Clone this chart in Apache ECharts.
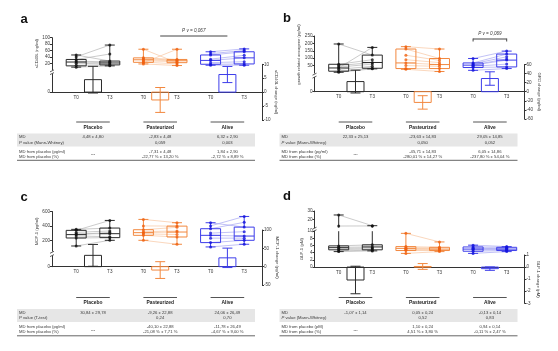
<!DOCTYPE html>
<html>
<head>
<meta charset="utf-8">
<script src="https://cdn.jsdelivr.net/npm/echarts@6/dist/echarts.min.js"></script>
<style>
  html, body { margin: 0; padding: 0; background: #fff; }
  #chart { width: 558px; height: 351px; }
</style>
</head>
<body>
<div id="chart"></div>
<script>
// categories
const groups = ['Placebo', 'Pasteurized', 'Alive'];
const timeLabels = ['T0', 'T3'];

// box stats [min, Q1, median, Q3, max] : placebo T0, placebo T3, past T0, past T3, alive T0, alive T3
const aBox = [[8, 12, 24, 32, 46], [12, 15, 21, 27, 77], [18, 23, 31, 37, 64], [13, 22, 28, 32, 64], [14, 17, 29, 46, 56], [14, 18, 37, 56, 65]];
const bBox = [[5, 12, 34, 59, 196], [28, 32, 71, 121, 173], [25, 30, 68, 162, 178], [10, 30, 57, 98, 162], [18, 37, 53, 68, 98], [30, 41, 87, 128, 148]];
const cBox = [[121, 232, 279, 338, 352], [200, 237, 292, 370, 476], [200, 269, 306, 347, 490], [145, 246, 315, 397, 444], [108, 168, 269, 361, 444], [145, 200, 259, 383, 531]];
const dBox = [[4.3, 4.8, 5.4, 5.9, 25.2], [4.5, 4.8, 5.6, 6.2, 12.3], [3.8, 4.6, 5.2, 5.7, 9.4], [4.3, 4.6, 5.0, 5.5, 7.0], [3.8, 4.4, 5.0, 5.6, 6.1], [4.3, 4.6, 5.0, 5.5, 5.7]];

// individual subjects (same order at T0 and T3), per group
const aT0 = [[40, 32, 46, 27, 24, 20, 14, 8], [64, 22, 37, 34, 31, 28, 24, 18], [56, 50, 46, 33, 29, 22, 17, 14]];
const aT3 = [[77, 49, 27, 24, 22, 18, 15, 12], [22, 64, 32, 30, 28, 25, 18, 13], [65, 60, 56, 45, 37, 25, 18, 14]];
const bT0 = [[196, 34, 59, 50, 40, 25, 12, 5], [178, 162, 120, 90, 68, 50, 30, 25], [98, 68, 62, 55, 53, 45, 37, 18]];
const bT3 = [[121, 173, 90, 71, 60, 45, 32, 28], [162, 98, 85, 70, 57, 45, 30, 10], [148, 128, 110, 95, 87, 60, 41, 30]];
const cT0 = [[352, 338, 310, 290, 279, 260, 232, 121], [490, 400, 347, 320, 306, 290, 269, 200], [444, 400, 361, 300, 269, 230, 168, 108]];
const cT3 = [[370, 476, 330, 292, 310, 250, 237, 200], [444, 397, 380, 330, 315, 280, 246, 145], [383, 531, 450, 320, 259, 230, 200, 145]];
const dT0 = [[25.2, 11.9, 5.9, 5.5, 5.2, 4.9, 4.5, 4.3], [9.4, 5.7, 5.4, 5.2, 5.0, 4.8, 4.6, 3.8], [6.1, 5.6, 5.3, 5.1, 5.0, 4.8, 4.4, 3.8]];
const dT3 = [[12.3, 12.0, 6.2, 5.6, 5.3, 5.0, 4.7, 4.5], [7.0, 5.5, 5.3, 5.1, 5.0, 4.8, 4.6, 4.3], [5.7, 5.5, 5.2, 5.1, 5.0, 4.8, 4.6, 4.3]];

// mean change ± sd (bars)
const aMean = [4.48, -2.83, 6.32], aSd = [4.80, 4.48, 2.90];
const bMean = [22.33, -23.63, 29.05], bSd = [25.13, 14.83, 14.85];
const cMean = [30.84, -9.26, 24.06], cSd = [29.78, 22.88, 26.49];
const dMean = [-1.07, 0.05, -0.13], dSd = [1.14, 0.24, 0.14];

// tables
const aRows = ['MD', '{it|P} value (Mann-Whitney)', 'MD from placebo (pg/ml)', 'MD from placebo (%)'];
const aPlacebo = ['4,48 ± 4,80', '', '---', ''];
const aPasteurized = ['-2,83 ± 4,48', '0,059', '-7,31 ± 4,48', '-22,77 % ± 13,20 %'];
const aAlive = ['6,32 ± 2,90', '0,003', '1,84 ± 2,90', '-2,72 % ± 8,89 %'];
const bRows = ['MD', '{it|P} value (Mann-Whitney)', 'MD from placebo (pg/ml)', 'MD from placebo (%)'];
const bPlacebo = ['22,33 ± 25,13', '', '---', ''];
const bPasteurized = ['-23,63 ± 14,83', '0,050', '-45,71 ± 14,83', '-280,01 % ± 14,27 %'];
const bAlive = ['29,05 ± 14,85', '0,052', '6,05 ± 14,86', '-237,80 % ± 54,04 %'];
const cRows = ['MD', '{it|P} value (T-test)', 'MD from placebo (pg/ml)', 'MD from placebo (%)'];
const cPlacebo = ['30,84 ± 29,78', '', '---', ''];
const cPasteurized = ['-9,26 ± 22,88', '0,24', '-40,10 ± 22,88', '-21,08 % ± 7,71 %'];
const cAlive = ['24,06 ± 26,49', '0,70', '-11,78 ± 26,49', '-4,67 % ± 9,00 %'];
const dRows = ['MD', '{it|P} value (Mann-Whitney)', 'MD from placebo (pM)', 'MD from placebo (%)'];
const dPlacebo = ['-1,07 ± 1,14', '', '---', ''];
const dPasteurized = ['0,05 ± 0,24', '0,52', '1,10 ± 0,24', '4,51 % ± 3,80 %'];
const dAlive = ['-0,13 ± 0,14', '0,83', '0,94 ± 0,14', '-0,11 % ± 2,47 %'];

const FONT = 'Liberation Sans';
const W = 210, X_MIN = -0.72, X_MAX = 5.53;
const PX = W / (X_MAX - X_MIN);
const BOX_W = 20, CAP_W = 10, BAR_W = 17;
const boxColors = ['#2b2b2b', '#f2883f', '#3d3dea'];
const pointColors = ['#111111', '#f0600f', '#1414dc'];
const linkColors = ['#b4b4b4', '#f8c5a0', '#a6a6f2'];
const AXIS = '#333';
const TEXT = '#3a3a3a';

const panels = [
  {
    letter: 'a', lx: 24, ly: 19, left: 52, tdx: 0, tdy: 0,
    boxAxes: [{ top: 37.7, height: 32, min: 0, max: 100, ticks: [20, 40, 60, 80, 100], named: true }],
    stub: { top: 74, height: 18.1 },
    bar: { top: 64.3, height: 55.6, min: -10, max: 10, interval: 5 },
    leftName: 'sCD40L (ng/ml)', rightName: 'sCD40L change (ng/ml)',
    box: aBox, t0: aT0, t3: aT3, mean: aMean, sd: aSd,
    table: [aRows, aPlacebo, aPasteurized, aAlive]
  },
  {
    letter: 'b', lx: 287, ly: 18, left: 314.5, tdx: 262.5, tdy: 0,
    boxAxes: [{ top: 36, height: 37, min: 0, max: 250, ticks: [50, 100, 150, 200, 250], named: true }],
    stub: { top: 77.5, height: 14.2 },
    bar: { top: 64.5, height: 54.4, min: -60, max: 60, interval: 20 },
    leftName: 'growth related oncogene (pg/ml)', rightName: 'GRO change (pg/ml)',
    box: bBox, t0: bT0, t3: bT3, mean: bMean, sd: bSd,
    table: [bRows, bPlacebo, bPasteurized, bAlive]
  },
  {
    letter: 'c', lx: 24, ly: 197.5, left: 52, tdx: 0, tdy: 175.5,
    boxAxes: [{ top: 211.5, height: 39.6, min: 50, max: 600, ticks: [200, 400, 600], named: true }],
    stub: { top: 256, height: 10.7 },
    bar: { top: 230, height: 55, min: -50, max: 100, interval: 50 },
    leftName: 'MCP-1 (pg/ml)', rightName: 'MCP-1 change (pg/ml)',
    box: cBox, t0: cT0, t3: cT3, mean: cMean, sd: cSd,
    table: [cRows, cPlacebo, cPasteurized, cAlive]
  },
  {
    letter: 'd', lx: 287, ly: 196, left: 314.5, tdx: 262.5, tdy: 175.5,
    boxAxes: [
      { top: 211, height: 16.6, min: 10, max: 30, ticks: [20, 30], named: false },
      { top: 231.2, height: 35.8, min: 0, max: 10, ticks: [0, 2, 4, 6, 8, 10], named: true }
    ],
    stub: null,
    bar: { top: 255, height: 48.3, min: -3, max: 1, interval: 1 },
    leftName: 'GLP-1 (pM)', rightName: 'GLP-1 change (pM)',
    box: dBox, t0: dT0, t3: dT3, mean: dMean, sd: dSd,
    table: [dRows, dPlacebo, dPasteurized, dAlive]
  }
];

function seg(x1, y1, x2, y2, stroke, w) {
  return { type: 'line', shape: { x1, y1, x2, y2 }, style: { stroke, lineWidth: w || 1 }, silent: true };
}
function txt(x, y, text, opts) {
  return {
    type: 'text', x, y, silent: true,
    style: Object.assign({
      text, fill: TEXT, fontSize: 4.2, fontFamily: FONT, align: 'left', verticalAlign: 'middle',
      rich: { it: { fontStyle: 'italic', fontSize: 4.2, fontFamily: FONT, fill: TEXT } }
    }, opts || {})
  };
}

function renderLink(params, api) {
  const p = api.coord([api.value(0), api.value(1)]);
  const q = api.coord([api.value(2), api.value(3)]);
  return seg(p[0], p[1], q[0], q[1], linkColors[api.value(4)], 0.7);
}

function renderBox(lo, hi) {
  return function (params, api) {
    const x = api.value(0);
    const [mn, q1, md, q3, mx] = [1, 2, 3, 4, 5].map(d => api.value(d));
    const ch = [];
    if (mx < lo || mn > hi) return { type: 'group', children: ch };
    const cl = v => Math.min(Math.max(v, lo), hi);
    const yOf = v => api.coord([x, cl(v)])[1];
    const cx = api.coord([x, lo])[0];
    const c = boxColors[Math.floor(x / 2)];
    const yQ1 = yOf(q1), yQ3 = yOf(q3), yMax = yOf(mx), yMin = yOf(mn);
    if (yQ1 - yQ3 > 0.1) {
      ch.push({ type: 'rect', shape: { x: cx - BOX_W / 2, y: yQ3, width: BOX_W, height: yQ1 - yQ3 }, style: { fill: 'none', stroke: c, lineWidth: 1 } });
    }
    if (md >= lo && md <= hi) ch.push(seg(cx - BOX_W / 2, yOf(md), cx + BOX_W / 2, yOf(md), c));
    if (yQ3 - yMax > 0.1) ch.push(seg(cx, yQ3, cx, yMax, c));
    if (mx <= hi) ch.push(seg(cx - CAP_W / 2, yMax, cx + CAP_W / 2, yMax, c));
    if (yMin - yQ1 > 0.1) ch.push(seg(cx, yQ1, cx, yMin, c));
    if (mn >= lo) ch.push(seg(cx - CAP_W / 2, yMin, cx + CAP_W / 2, yMin, c));
    return { type: 'group', children: ch };
  };
}

function renderBar(params, api) {
  const x = api.value(0), m = api.value(1), s = api.value(2);
  const c = boxColors[Math.floor(x / 2)];
  const base = api.coord([x, 0]), top = api.coord([x, m]);
  const hi = api.coord([x, m + s]), lo = api.coord([x, m - s]);
  const cx = base[0];
  return {
    type: 'group', children: [
      { type: 'rect', shape: { x: cx - BAR_W / 2, y: Math.min(base[1], top[1]), width: BAR_W, height: Math.abs(top[1] - base[1]) }, style: { fill: 'none', stroke: c, lineWidth: 1 } },
      seg(cx, hi[1], cx, lo[1], c),
      seg(cx - CAP_W / 2, hi[1], cx + CAP_W / 2, hi[1], c),
      seg(cx - CAP_W / 2, lo[1], cx + CAP_W / 2, lo[1], c)
    ]
  };
}

const option = {
  animation: false,
  textStyle: { fontFamily: FONT },
  grid: [], xAxis: [], yAxis: [], series: [], graphic: []
};

const labelStyle = { fontSize: 4.6, color: TEXT, fontFamily: FONT, margin: 2 };
const nameStyle = { fontSize: 4.2, color: TEXT, fontFamily: FONT };

function addGrid(left, top, height) {
  option.grid.push({ left, top, width: W, height, outerBoundsMode: 'none' });
  return option.grid.length - 1;
}

panels.forEach(p => {
  const posX = pos => p.left + (pos - X_MIN) * PX;

  // box plot area(s)
  p.boxAxes.forEach(ax => {
    const gi = addGrid(p.left, ax.top, ax.height);
    option.xAxis.push({ gridIndex: gi, type: 'value', min: X_MIN, max: X_MAX, show: false });
    option.yAxis.push({
      gridIndex: gi, type: 'value', min: ax.min, max: ax.max, position: 'left',
      axisLine: { show: true, onZero: false, lineStyle: { color: AXIS, width: 1 } },
      axisTick: { show: true, length: 2, customValues: ax.ticks, lineStyle: { color: AXIS } },
      axisLabel: Object.assign({ customValues: ax.ticks }, labelStyle),
      splitLine: { show: false },
      name: ax.named ? p.leftName : '', nameLocation: 'middle', nameGap: 11, nameTextStyle: nameStyle
    });
    const xi = option.xAxis.length - 1, yi = option.yAxis.length - 1;
    const inR = v => v >= ax.min && v <= ax.max;

    const links = [];
    const pts = [];
    p.t0.forEach((arr, g) => arr.forEach((v0, s) => {
      const v1 = p.t3[g][s];
      if (inR(v0) && inR(v1)) links.push([2 * g, v0, 2 * g + 1, v1, g]);
      if (inR(v0)) pts.push({ value: [2 * g, v0], itemStyle: { color: pointColors[g] } });
      if (inR(v1)) pts.push({ value: [2 * g + 1, v1], itemStyle: { color: pointColors[g] } });
    }));
    option.series.push({ type: 'custom', xAxisIndex: xi, yAxisIndex: yi, data: links, renderItem: renderLink, z: 1, silent: true });
    option.series.push({ type: 'custom', xAxisIndex: xi, yAxisIndex: yi, data: p.box.map((b, i) => [i].concat(b)), renderItem: renderBox(ax.min, ax.max), z: 2, silent: true });
    option.series.push({ type: 'scatter', xAxisIndex: xi, yAxisIndex: yi, data: pts, symbol: 'circle', symbolSize: 3, z: 3, silent: true });
  });

  // left axis stub down to 0
  if (p.stub) {
    const gi = addGrid(p.left, p.stub.top, p.stub.height);
    option.xAxis.push({ gridIndex: gi, type: 'value', min: X_MIN, max: X_MAX, show: false });
    option.yAxis.push({
      gridIndex: gi, type: 'value', min: 0, max: 1, position: 'left',
      axisLine: { show: true, onZero: false, lineStyle: { color: AXIS, width: 1 } },
      axisTick: { show: true, length: 2, customValues: [0], lineStyle: { color: AXIS } },
      axisLabel: Object.assign({ customValues: [0] }, labelStyle),
      splitLine: { show: false }
    });
    const yb = p.boxAxes[0].top + p.boxAxes[0].height;
    option.graphic.push(seg(p.left - 2, yb + 2.2, p.left + 2, yb + 0.2, AXIS, 0.8));
    option.graphic.push(seg(p.left - 2, p.stub.top + 0.6, p.left + 2, p.stub.top - 1.4, AXIS, 0.8));
  } else {
    const yb = p.boxAxes[0].top + p.boxAxes[0].height;
    const yt = p.boxAxes[1].top;
    option.graphic.push(seg(p.left - 2, yb + 1.6, p.left + 2, yb - 0.4, AXIS, 0.8));
    option.graphic.push(seg(p.left - 2, yt + 0.6, p.left + 2, yt - 1.4, AXIS, 0.8));
  }

  // change bars; the T0/T3 axis sits on the zero line of the change axis
  const gb = addGrid(p.left, p.bar.top, p.bar.height);
  const zeroLift = p.bar.height * (0 - p.bar.min) / (p.bar.max - p.bar.min);
  option.xAxis.push({
    gridIndex: gb, type: 'value', min: X_MIN, max: X_MAX, position: 'bottom', offset: -zeroLift,
    axisLine: { show: true, onZero: false, lineStyle: { color: AXIS, width: 1 } },
    axisTick: { show: false },
    axisLabel: Object.assign({}, labelStyle, { customValues: [0, 1, 2, 3, 4, 5], formatter: v => timeLabels[Math.round(v) % 2], margin: 3 }),
    splitLine: { show: false }
  });
  option.yAxis.push({
    gridIndex: gb, type: 'value', position: 'right', min: p.bar.min, max: p.bar.max, interval: p.bar.interval,
    axisLine: { show: true, onZero: false, lineStyle: { color: AXIS, width: 1 } },
    axisTick: { show: true, length: 2, lineStyle: { color: AXIS } },
    axisLabel: labelStyle,
    splitLine: { show: false },
    name: p.rightName, nameLocation: 'middle', nameRotate: -90, nameGap: 12, nameTextStyle: nameStyle
  });
  option.series.push({
    type: 'custom', xAxisIndex: option.xAxis.length - 1, yAxisIndex: option.yAxis.length - 1,
    data: p.mean.map((m, g) => [2 * g + 0.5, m, p.sd[g]]), renderItem: renderBar, z: 2, silent: true
  });

  // panel letter
  option.graphic.push(txt(p.lx, p.ly, p.letter, { fontSize: 13, fontWeight: 'bold', align: 'center', fill: '#111' }));

  // table under the chart
  const dx = p.tdx, dy = p.tdy;
  groups.forEach((name, g) => {
    option.graphic.push(seg(posX(2 * g), 122 + dy, posX(2 * g + 1), 122 + dy, '#555', 1));
    option.graphic.push(txt(posX(2 * g + 0.5), 127.5 + dy, name, { fontSize: 4.9, fontWeight: 'bold', align: 'center', fill: '#222' }));
  });
  option.graphic.push({ type: 'rect', shape: { x: 17 + dx, y: 133.5 + dy, width: 238, height: 13 }, style: { fill: '#e6e6e6' }, silent: true, z: -1 });
  option.graphic.push(seg(17 + dx, 160.3 + dy, 255 + dx, 160.3 + dy, '#666', 1));
  const rowY = [137.3, 142.6, 151.5, 156.4];
  const [rows, ...cols] = p.table;
  rows.forEach((r, i) => option.graphic.push(txt(19 + dx, rowY[i] + dy, r)));
  cols.forEach((col, g) => col.forEach((v, i) => {
    if (!v) return;
    const y = (g === 0 && i === 2) ? 154 : rowY[i];
    option.graphic.push(txt(posX(2 * g + 0.5), y + dy, v, { align: 'center' }));
  }));
});

// significance annotations
const pRich = { it: { fontStyle: 'italic', fontSize: 4.6, fontFamily: FONT, fill: TEXT } };
option.graphic.push(seg(52 + (2.5 - X_MIN) * PX, 36, 52 + (4.5 - X_MIN) * PX, 36, '#444', 1));
option.graphic.push(txt(52 + (3.5 - X_MIN) * PX, 30.8, '{it|P v = 0,067}', { align: 'center', rich: pRich }));
const bx1 = 314.5 + (4 - X_MIN) * PX, bx2 = 314.5 + (5 - X_MIN) * PX;
option.graphic.push(seg(bx1, 39, bx2, 39, '#444', 1));
option.graphic.push(seg(bx1, 38.5, bx1, 41.5, '#444', 1));
option.graphic.push(seg(bx2, 38.5, bx2, 41.5, '#444', 1));
option.graphic.push(txt((bx1 + bx2) / 2, 34, '{it|P v = 0,069}', { align: 'center', rich: pRich }));

const myChart = echarts.init(document.getElementById('chart'), null, { renderer: 'canvas' });
myChart.setOption(option);
</script>
</body>
</html>
